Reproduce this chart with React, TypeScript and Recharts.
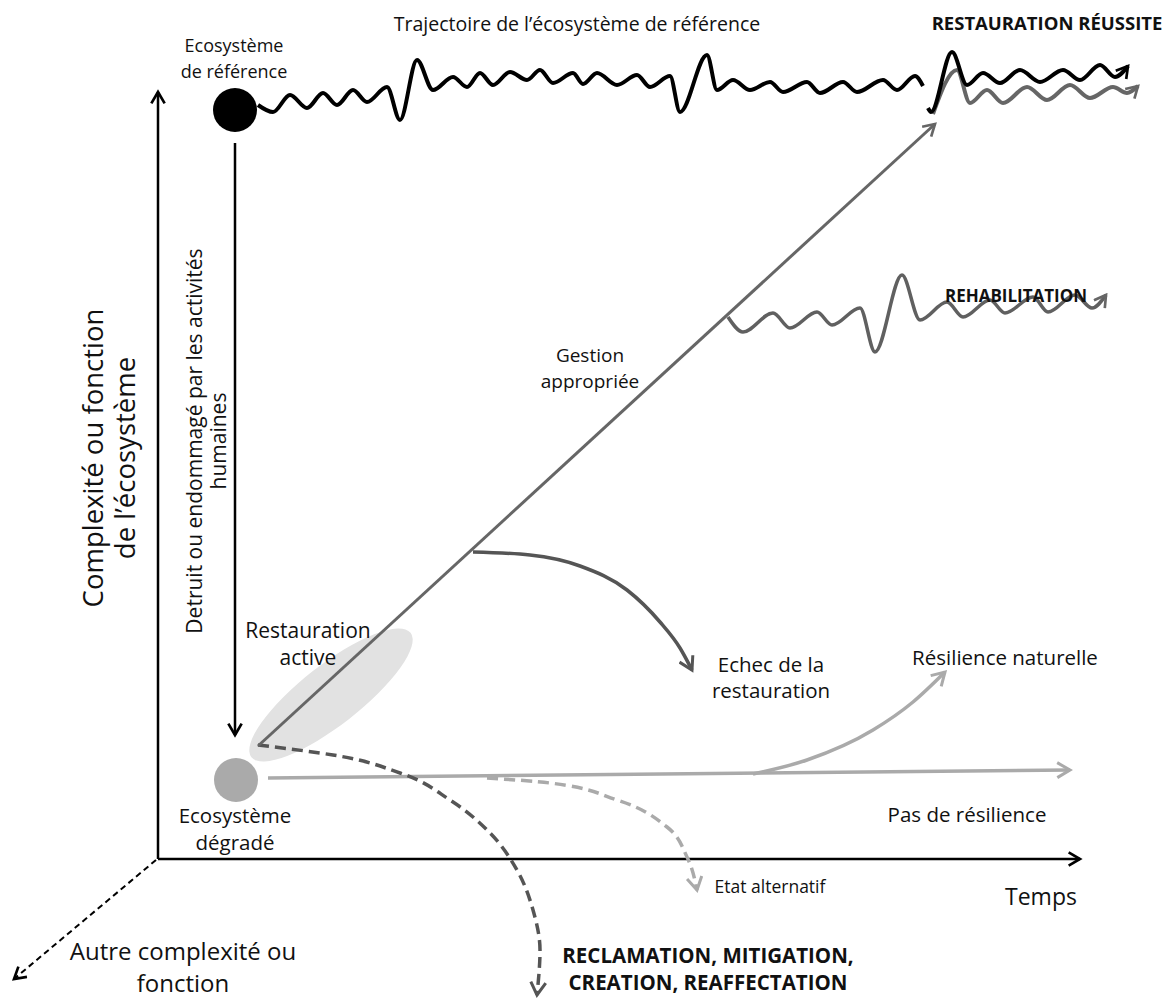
import { ComposedChart, Line, XAxis, YAxis, ReferenceDot } from 'recharts'

type P = [number, number]

// coordinates are in the picture's own frame: x to the right, y downwards (0..1168 x 0..1000)
const Y_AXIS: P[] = [[158, 859], [158, 92]]
const X_AXIS: P[] = [[158, 859], [1080, 859]]
const OTHER_AXIS: P[] = [[156, 860], [14, 979]]
const DEGRADATION: P[] = [[235, 143], [235, 735]]

const REFERENCE_TRAJ: P[] = [
  [258, 105], [273, 112], [290, 95], [307, 108], [323, 93], [337, 105], [353, 90], [367, 102],
  [387, 87], [400, 120], [417, 60], [433, 90], [453, 77], [467, 87], [480, 73], [493, 85],
  [510, 72], [527, 80], [540, 70], [553, 83], [573, 73], [583, 84], [597, 73], [617, 85],
  [637, 75], [650, 87], [670, 76], [680, 112], [707, 55], [717, 90], [733, 80], [750, 90],
  [770, 82], [783, 92], [807, 82], [820, 93], [843, 82], [857, 92], [883, 80], [897, 90],
  [915, 76], [923, 86],
]
const REFERENCE_END: P[] = [
  [928, 108], [931, 112], [952, 52], [967, 85], [983, 73], [1000, 83], [1020, 70], [1040, 82],
  [1063, 70], [1080, 80], [1100, 65], [1115, 77], [1128, 66],
]
const RESTORATION: P[] = [[258, 746], [935, 124]]
const RESTORED: P[] = [
  [933, 114], [957, 70], [970, 103], [987, 90], [1003, 103], [1027, 87], [1047, 100],
  [1070, 85], [1090, 98], [1113, 87], [1127, 93], [1138, 86],
]
const REHABILITATION: P[] = [
  [728, 317], [743, 332], [773, 313], [790, 328], [817, 312], [832, 325], [860, 308],
  [875, 352], [902, 275], [920, 320], [947, 302], [963, 317], [990, 300], [1005, 313],
  [1033, 297], [1048, 312], [1075, 295], [1092, 308], [1106, 295],
]
const FAILURE: P[] = [[473, 552], [530, 555], [580, 566], [627, 590], [660, 622], [680, 648], [692, 670]]
const NO_RESILIENCE: P[] = [[268, 778], [1070, 770]]
const NATURAL_RESILIENCE: P[] = [[753, 774], [807, 760], [873, 730], [913, 702], [945, 672]]
const ALTERNATIVE: P[] = [[487, 778], [550, 783], [617, 800], [667, 827], [687, 857], [697, 890]]
const RECLAMATION: P[] = [
  [258, 745], [333, 755], [400, 773], [450, 800], [490, 833], [517, 870], [533, 910],
  [540, 950], [537, 995],
]

const REFERENCE_NODE: P = [235, 110]
const DEGRADED_NODE: P = [236, 780]
const ACTIVE_ZONE: P = [331, 695]

interface Label {
  at: P
  lines: string[]
}

const REFERENCE_LABEL: Label = { at: [234, 52], lines: ['Ecosystème', 'de référence'] }
const TRAJECTORY_LABEL: Label = { at: [577, 31], lines: ['Trajectoire de l’écosystème de référence'] }
const MANAGEMENT_LABEL: Label = { at: [590, 362], lines: ['Gestion', 'appropriée'] }
const ACTIVE_LABEL: Label = { at: [308, 638], lines: ['Restauration', 'active'] }
const FAILURE_LABEL: Label = { at: [771, 672], lines: ['Echec de la', 'restauration'] }
const NATURAL_LABEL: Label = { at: [1005, 665], lines: ['Résilience naturelle'] }
const NO_RES_LABEL: Label = { at: [967, 822], lines: ['Pas de résilience'] }
const DEGRADED_LABEL: Label = { at: [235, 823], lines: ['Ecosystème', 'dégradé'] }
const ALT_LABEL: Label = { at: [770, 893], lines: ['Etat alternatif'] }
const SUCCESS_LABEL: Label = { at: [1047, 30], lines: ['RESTAURATION RÉUSSITE'] }
const REHAB_LABEL: Label = { at: [1016, 302], lines: ['REHABILITATION'] }
const RECLAMATION_LABEL: Label = { at: [708, 963], lines: ['RECLAMATION, MITIGATION,', 'CREATION, REAFFECTATION'] }
const TIME_LABEL: Label = { at: [1041, 905], lines: ['Temps'] }
const OTHER_LABEL: Label = { at: [183, 960], lines: ['Autre complexité ou', 'fonction'] }
const COMPLEXITY_LABEL: Label = { at: [103, 458], lines: ['Complexité ou fonction', 'de l’écosystème'] }
const DAMAGE_LABEL: Label = { at: [202, 441], lines: ['Detruit ou endommagé par les activités', 'humaines'] }

const FONT = '"Open Sans", sans-serif'

const toPoints = (pts: P[]) => pts.map(([x, y]) => ({ x, y }))

function path(id: string, pts: P[], stroke: string, width: number, opts: { curve?: any; dash?: string; arrow?: string } = {}) {
  return (
    <Line
      key={id}
      data={toPoints(pts)}
      dataKey="y"
      type={opts.curve ?? 'linear'}
      stroke={stroke}
      strokeWidth={width}
      strokeDasharray={opts.dash}
      strokeLinecap="butt"
      strokeLinejoin="round"
      markerEnd={opts.arrow ? `url(#${opts.arrow})` : undefined}
      dot={false}
      activeDot={false}
      isAnimationActive={false}
    />
  )
}

function textShape(lines: string[], size: number, gap: number, weight = 400, vertical = false) {
  return (p: any) => (
    <text
      x={p.cx}
      y={p.cy}
      textAnchor="middle"
      fontFamily={FONT}
      fontSize={size}
      fontWeight={weight}
      fill="#111"
      transform={vertical ? `rotate(-90 ${p.cx} ${p.cy})` : undefined}
    >
      {lines.map((l, i) => (
        <tspan key={i} x={p.cx} dy={i === 0 ? 0 : gap}>{l}</tspan>
      ))}
    </text>
  )
}

function label(l: Label, size: number, gap: number, weight = 400, vertical = false) {
  return (
    <ReferenceDot key={l.lines[0]} x={l.at[0]} y={l.at[1]} r={0} shape={textShape(l.lines, size, gap, weight, vertical)} />
  )
}

function marker(id: string, color: string, size = 16) {
  return (
    <marker id={id} viewBox="0 0 12 12" refX="10" refY="6" markerWidth={size} markerHeight={size} markerUnits="userSpaceOnUse" orient="auto">
      <path d="M1.5,1 L10,6 L1.5,11" fill="none" stroke={color} strokeWidth={2} strokeLinejoin="miter" />
    </marker>
  )
}

export default function App() {
  return (
    <div style={{ position: 'absolute', left: 0, top: 0, width: 1168, height: 1000, background: '#fff' }}>
      <ComposedChart width={1168} height={1000} margin={{ top: 0, right: 0, bottom: 0, left: 0 }}>
        <defs>
          {marker('arrow-black', '#000', 16)}
          {marker('arrow-dark', '#555', 18)}
          {marker('arrow-mid', '#666', 16)}
          {marker('arrow-light', '#aaa', 18)}
        </defs>
        <XAxis type="number" dataKey="x" domain={[0, 1168]} allowDataOverflow hide />
        <YAxis type="number" dataKey="y" domain={[0, 1000]} reversed allowDataOverflow hide />

        <ReferenceDot
          x={ACTIVE_ZONE[0]}
          y={ACTIVE_ZONE[1]}
          r={0}
          zIndex={-10}
          shape={(p: any) => (
            <ellipse cx={p.cx} cy={p.cy} rx={101} ry={30} fill="#e2e2e2" transform={`rotate(-38 ${p.cx} ${p.cy})`} />
          )}
        />

        {path('y-axis', Y_AXIS, '#000', 2.5, { arrow: 'arrow-black' })}
        {path('x-axis', X_AXIS, '#000', 2.5, { arrow: 'arrow-black' })}
        {path('other-axis', OTHER_AXIS, '#000', 2, { dash: '6 4', arrow: 'arrow-black' })}
        {path('degradation', DEGRADATION, '#000', 2.5, { arrow: 'arrow-black' })}

        {path('no-resilience', NO_RESILIENCE, '#aaa', 3.5, { arrow: 'arrow-light' })}
        {path('natural', NATURAL_RESILIENCE, '#aaa', 3.5, { curve: 'monotone', arrow: 'arrow-light' })}
        {path('alternative', ALTERNATIVE, '#aaa', 3.5, { curve: 'monotoneY', dash: '11 6', arrow: 'arrow-light' })}
        {path('reclamation', RECLAMATION, '#555', 3.5, { curve: 'monotoneY', dash: '11 6', arrow: 'arrow-dark' })}

        {path('restoration', RESTORATION, '#666', 3, { arrow: 'arrow-mid' })}
        {path('failure', FAILURE, '#555', 3.5, { curve: 'monotone', arrow: 'arrow-dark' })}
        {path('rehabilitation', REHABILITATION, '#606060', 3.5, { curve: 'monotone', arrow: 'arrow-mid' })}
        {path('restored', RESTORED, '#666', 4, { curve: 'monotone', arrow: 'arrow-mid' })}
        {path('reference', REFERENCE_TRAJ, '#000', 4, { curve: 'monotone' })}
        {path('reference-end', REFERENCE_END, '#000', 4, { curve: 'monotone', arrow: 'arrow-black' })}

        <ReferenceDot x={REFERENCE_NODE[0]} y={REFERENCE_NODE[1]} r={22} fill="#000" stroke="none" />
        <ReferenceDot x={DEGRADED_NODE[0]} y={DEGRADED_NODE[1]} r={22} fill="#aaa" stroke="none" />

        {label(REFERENCE_LABEL, 18, 26)}
        {label(TRAJECTORY_LABEL, 19.5, 0)}
        {label(MANAGEMENT_LABEL, 19, 26)}
        {label(ACTIVE_LABEL, 21, 27)}
        {label(FAILURE_LABEL, 20.5, 26)}
        {label(NATURAL_LABEL, 20.5, 0)}
        {label(NO_RES_LABEL, 20.5, 0)}
        {label(DEGRADED_LABEL, 20.5, 27)}
        {label(ALT_LABEL, 17.5, 0)}
        {label(SUCCESS_LABEL, 18.5, 0, 700)}
        {label(REHAB_LABEL, 17, 0, 700)}
        {label(RECLAMATION_LABEL, 20.5, 27, 700)}
        {label(TIME_LABEL, 23, 0)}
        {label(OTHER_LABEL, 24, 32)}
        {label(COMPLEXITY_LABEL, 27.5, 32, 400, true)}
        {label(DAMAGE_LABEL, 21, 24, 400, true)}
      </ComposedChart>
    </div>
  )
}
